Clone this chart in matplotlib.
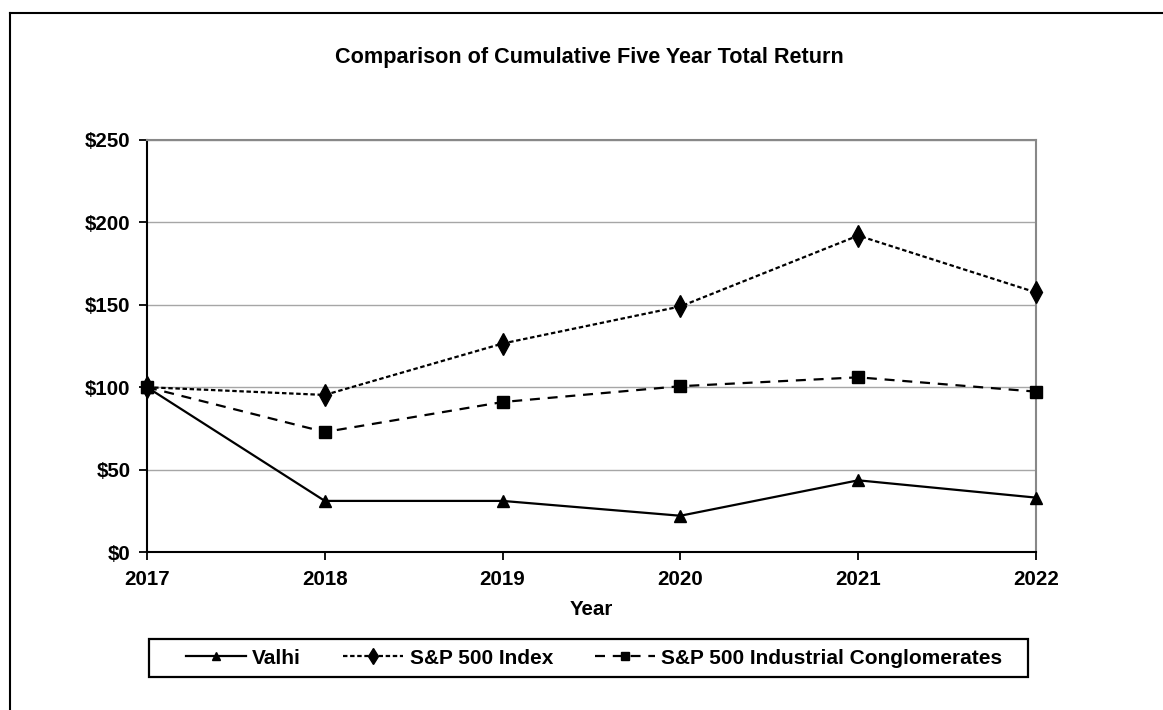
import matplotlib
matplotlib.use("Agg")
import matplotlib.pyplot as plt
from matplotlib.lines import Line2D
from matplotlib.patches import Rectangle

plt.rcParams['font.family'] = ['Liberation Sans', 'DejaVu Sans']
plt.rcParams['font.weight'] = 'bold'

years = [2017, 2018, 2019, 2020, 2021, 2022]
valhi = [100, 31, 31, 22, 43.5, 33]
sp500 = [100, 95.3, 126.5, 149, 192, 157.5]
industrial = [100, 72.8, 91, 100.6, 106, 97.3]
yticks = [0, 50, 100, 150, 200, 250]
ytick_labels = ['$0', '$50', '$100', '$150', '$200', '$250']

fig = plt.figure(figsize=(11.63, 7.10), dpi=100)
ax = fig.add_axes([147/1163, 1-552/710, (1036-147)/1163, (552-140)/710])

ax.plot(years, valhi, color='black', lw=1.6, ls='-', marker='^', ms=8,
        label='Valhi', clip_on=False, zorder=5)
ax.plot(years, sp500, color='black', lw=1.6, ls=(0, (2.0, 1.2)), marker='d', ms=11,
        label='S&P 500 Index', clip_on=False, zorder=5)
ax.plot(years, industrial, color='black', lw=1.6, ls=(0, (4.5, 3.5)), marker='s', ms=9,
        label='S&P 500 Industrial Conglomerates', clip_on=False, zorder=5)

ax.set_xlim(2017, 2022)
ax.set_ylim(0, 250)
ax.set_yticks(yticks)
ax.set_yticklabels(ytick_labels)
ax.set_xticks(years)
ax.set_xticklabels([str(y) for y in years])
ax.yaxis.grid(True, color='#a6a6a6', lw=1.0)
ax.set_axisbelow(True)
for s in ['top', 'right']:
    ax.spines[s].set_color('#888888')
    ax.spines[s].set_linewidth(1.5)
for s in ['left', 'bottom']:
    ax.spines[s].set_color('black')
    ax.spines[s].set_linewidth(1.5)
ax.tick_params(axis='both', direction='out', length=6, width=1.3, labelsize=14.8,
               colors='black')
ax.tick_params(axis='y', pad=6)
ax.tick_params(axis='x', pad=7)
ax.set_xlabel('Year', fontsize=14.8, fontweight='bold', labelpad=8)

fig.text(589/1163, 1-58/710, 'Comparison of Cumulative Five Year Total Return',
         ha='center', va='center', fontsize=15.6, fontweight='bold')

leg = fig.legend(loc='center', bbox_to_anchor=(594/1163, 1-658/710), ncol=3,
                 frameon=False, fontsize=15,
                 handlelength=2.9, columnspacing=2.0, markerscale=0.7,
                 borderpad=0.35, handletextpad=0.3)

# legend box
fig.add_artist(Rectangle((149/1163, 1-677/710), (1028-149)/1163, (677-639)/710,
                         transform=fig.transFigure, fill=False, edgecolor='black',
                         lw=1.6))

# outer frame (left and top edges)
fig.add_artist(Line2D([10/1163, 10/1163], [0, 1-13/710], color='black', lw=1.5,
                      transform=fig.transFigure))
fig.add_artist(Line2D([10/1163, 1], [1-13/710, 1-13/710], color='black', lw=1.5,
                      transform=fig.transFigure))

fig.savefig('out.png', dpi=100)
